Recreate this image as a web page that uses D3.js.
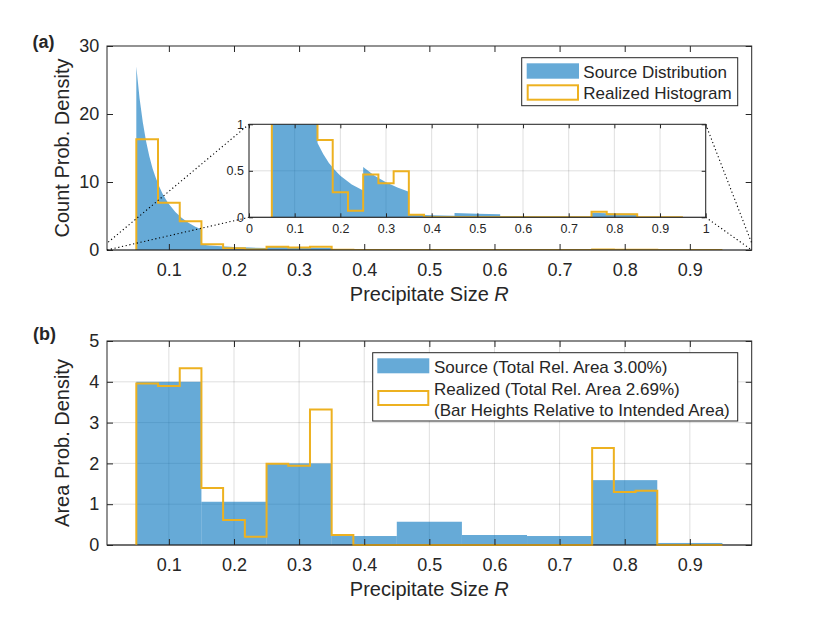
<!DOCTYPE html>
<html>
<head>
<meta charset="utf-8">
<script src="https://cdn.jsdelivr.net/npm/d3@7"></script>
<style>
  body { margin: 0; background: #fff; }
  text { font-family: "Liberation Sans", Arial, Helvetica, sans-serif; fill: #262626; }
</style>
</head>
<body>
<script>
// chart data
var srcEdges = [0.05, 0.15, 0.25, 0.35, 0.45, 0.55, 0.65, 0.75, 0.85, 0.95];
var srcArea = [4.0, 1.06, 2.0, 0.22, 0.57, 0.245, 0.22, 1.59, 0.05];

var srcCurveR = [0.05, 0.055, 0.06, 0.065, 0.07, 0.075, 0.08, 0.085, 0.09, 0.095, 0.10, 0.11, 0.12, 0.13, 0.14, 0.15,
  0.15, 0.1625, 0.175, 0.1875, 0.20, 0.225, 0.25,
  0.25, 0.275, 0.30, 0.325, 0.35,
  0.35, 0.40, 0.45,
  0.45, 0.50, 0.55,
  0.55, 0.60, 0.65,
  0.65, 0.70, 0.75,
  0.75, 0.80, 0.85,
  0.85, 0.90, 0.95];
var srcCurveY = [27.0, 22.3, 18.8, 16.0, 13.8, 12.0, 10.6, 9.36, 8.35, 7.49, 6.76, 5.59, 4.69, 4.00, 3.45, 3.00,
  0.80, 0.68, 0.585, 0.51, 0.448, 0.354, 0.287,
  0.54, 0.447, 0.376, 0.32, 0.276,
  0.030, 0.023, 0.018,
  0.047, 0.038, 0.032,
  0.014, 0.0115, 0.0098,
  0.0088, 0.0076, 0.0066,
  0.048, 0.042, 0.037,
  0.0012, 0.001, 0.0009];

var realEdges = [0.05, 0.0833, 0.1167, 0.15, 0.1833, 0.2167, 0.25, 0.2833, 0.3167, 0.35, 0.3833, 0.4167, 0.45, 0.4833,
  0.5167, 0.55, 0.5833, 0.6167, 0.65, 0.6833, 0.7167, 0.75, 0.7833, 0.8167, 0.85, 0.8833, 0.9167, 0.95];
var realCount = [16.3, 6.96, 4.22, 0.83, 0.27, 0.07, 0.46, 0.365, 0.495, 0.028, 0, 0, 0, 0, 0, 0, 0, 0, 0, 0, 0,
  0.06, 0.032, 0.033, 0, 0, 0];
var realArea = [3.96, 3.90, 4.33, 1.40, 0.61, 0.20, 1.99, 1.94, 3.32, 0.245, 0, 0, 0, 0, 0, 0, 0, 0, 0, 0, 0,
  2.38, 1.30, 1.33, 0, 0, 0];

var xTicks = [0.1, 0.2, 0.3, 0.4, 0.5, 0.6, 0.7, 0.8, 0.9];
var yTicksA = [0, 10, 20, 30];
var yTicksB = [0, 1, 2, 3, 4, 5];
var insetXTicks = [0, 0.1, 0.2, 0.3, 0.4, 0.5, 0.6, 0.7, 0.8, 0.9, 1];
var insetYTicks = [0, 0.5, 1];

var legendA = ["Source Distribution", "Realized Histogram"];
var legendB = ["Source (Total Rel. Area 3.00%)", "Realized (Total Rel. Area 2.69%)", "(Bar Heights Relative to Intended Area)"];

var blue = "#0072BD", orange = "#EDB120", ink = "#262626";

var svg = d3.select("body").append("svg")
  .attr("width", 830)
  .attr("height", 623);

var x = d3.scaleLinear().domain([0.005, 0.995]).range([107, 751.7]);
var yA = d3.scaleLinear().domain([0, 30]).range([250, 46]);
var yB = d3.scaleLinear().domain([0, 5]).range([545, 341]);
var xIn = d3.scaleLinear().domain([0, 1]).range([249, 705.7]);
var yIn = d3.scaleLinear().domain([0, 1]).range([217.3, 124.3]);

function stairs(edges, h) {
  var pts = [[edges[0], 0]];
  h.forEach(function(v, i) {
    pts.push([edges[i], v]);
    pts.push([edges[i + 1], v]);
  });
  pts.push([edges[edges.length - 1], 0]);
  return pts;
}
var curvePts = srcCurveR.map(function(r, i) { return [r, srcCurveY[i]]; });

function frame(g, xs, ys) {
  var x0 = xs.range()[0], x1 = xs.range()[1], y0 = ys.range()[0], y1 = ys.range()[1];
  g.append("rect")
    .attr("x", x0).attr("y", y1)
    .attr("width", x1 - x0).attr("height", y0 - y1)
    .attr("fill", "none").attr("stroke", ink).attr("stroke-width", 1);
}

function axes(g, xs, ys, xt, yt, opts) {
  var x0 = xs.range()[0], x1 = xs.range()[1], y0 = ys.range()[0], y1 = ys.range()[1];
  var tl = opts.tick, fs = opts.fs;
  var fmt = function(d) { return String(+d.toFixed(2)); };
  var b = g.append("g").attr("transform", "translate(0," + y0 + ")")
    .call(d3.axisBottom(xs).tickValues(xt).tickSizeInner(-tl).tickSizeOuter(0).tickPadding(opts.xpad).tickFormat(fmt));
  var t = g.append("g").attr("transform", "translate(0," + y1 + ")")
    .call(d3.axisTop(xs).tickValues(xt).tickSizeInner(-tl).tickSizeOuter(0).tickFormat(""));
  var l = g.append("g").attr("transform", "translate(" + x0 + ",0)")
    .call(d3.axisLeft(ys).tickValues(yt).tickSizeInner(-tl).tickSizeOuter(0).tickPadding(opts.ypad).tickFormat(fmt));
  var r = g.append("g").attr("transform", "translate(" + x1 + ",0)")
    .call(d3.axisRight(ys).tickValues(yt).tickSizeInner(-tl).tickSizeOuter(0).tickFormat(""));
  [b, t, l, r].forEach(function(a) {
    a.select(".domain").remove();
    a.selectAll("line").attr("stroke", ink).attr("stroke-width", 1);
    a.selectAll("text").attr("font-size", fs).attr("fill", ink)
      .style("font-family", "'Liberation Sans', Arial, sans-serif");
  });
}

function grid(g, xs, ys, xt, yt) {
  var gg = g.append("g").attr("stroke", ink).attr("stroke-opacity", 0.15).attr("stroke-width", 1);
  xt.forEach(function(d) {
    gg.append("line").attr("x1", xs(d)).attr("x2", xs(d)).attr("y1", ys.range()[0]).attr("y2", ys.range()[1]);
  });
  yt.forEach(function(d) {
    gg.append("line").attr("y1", ys(d)).attr("y2", ys(d)).attr("x1", xs.range()[0]).attr("x2", xs.range()[1]);
  });
}

function xlabel(y) {
  var t = svg.append("text").attr("x", 429.3).attr("y", y)
    .attr("text-anchor", "middle").attr("font-size", 20);
  t.append("tspan").text("Precipitate Size ");
  t.append("tspan").attr("font-style", "italic").text("R");
}
function ylabel(txt, cy) {
  svg.append("text").attr("transform", "translate(69," + cy + ") rotate(-90)")
    .attr("text-anchor", "middle").attr("font-size", 20).text(txt);
}

// ---------------- panel (a) ----------------
var gA = svg.append("g");
svg.append("clipPath").attr("id", "clipA").append("rect")
  .attr("x", 107).attr("y", 46).attr("width", 644.7).attr("height", 204);
var plotA = gA.append("g").attr("clip-path", "url(#clipA)");

var area = function(xs, ys) {
  return d3.area().x(function(d) { return xs(d[0]); }).y0(ys(0)).y1(function(d) { return ys(d[1]); });
};
var line = function(xs, ys) {
  return d3.line().x(function(d) { return xs(d[0]); }).y(function(d) { return ys(d[1]); });
};

plotA.append("path").attr("d", area(x, yA)(curvePts))
  .attr("fill", blue).attr("fill-opacity", 0.6);
frame(gA, x, yA);
plotA.append("path").attr("d", line(x, yA)(stairs(realEdges, realCount)))
  .attr("fill", "none").attr("stroke", orange).attr("stroke-width", 2);
gA.append("line").attr("x1", 107).attr("x2", 751.7).attr("y1", 250).attr("y2", 250)
  .attr("stroke", ink).attr("stroke-opacity", 0.5);
axes(gA, x, yA, xTicks, yTicksA, { tick: 6, fs: 18, xpad: 13.2, ypad: 7.7 });

// zoom indicator lines
var zl = [
  [xIn(0), yIn(1), x.range()[0], yA(1)],
  [xIn(0), yIn(0), x.range()[0], yA(0)],
  [xIn(1), yIn(1), x.range()[1], yA(1)],
  [xIn(1), yIn(0), x.range()[1], yA(0)]
];
gA.selectAll(".zl").data(zl).enter().append("line")
  .attr("x1", function(d) { return d[0]; }).attr("y1", function(d) { return d[1]; })
  .attr("x2", function(d) { return d[2]; }).attr("y2", function(d) { return d[3]; })
  .attr("stroke", "#000").attr("stroke-width", 1.1).attr("stroke-dasharray", "1.2,2.6");

// inset
var gI = svg.append("g");
gI.append("rect").attr("x", 249).attr("y", 124.3).attr("width", 456.7).attr("height", 93).attr("fill", "#fff");
grid(gI, xIn, yIn, insetXTicks, insetYTicks);
svg.append("clipPath").attr("id", "clipI").append("rect")
  .attr("x", 249).attr("y", 124.3).attr("width", 456.7).attr("height", 93);
var plotI = gI.append("g").attr("clip-path", "url(#clipI)");
plotI.append("path").attr("d", area(xIn, yIn)(curvePts))
  .attr("fill", blue).attr("fill-opacity", 0.6);
frame(gI, xIn, yIn);
plotI.append("path").attr("d", line(xIn, yIn)(stairs(realEdges, realCount)))
  .attr("fill", "none").attr("stroke", orange).attr("stroke-width", 2);
gI.append("line").attr("x1", 249).attr("x2", 705.7).attr("y1", 217.3).attr("y2", 217.3)
  .attr("stroke", ink).attr("stroke-opacity", 0.5);
axes(gI, xIn, yIn, insetXTicks, insetYTicks, { tick: 4, fs: 12.5, xpad: 7, ypad: 5 });

// legend (a)
var lA = svg.append("g");
lA.append("rect").attr("x", 521.7).attr("y", 57.7).attr("width", 216).attr("height", 48)
  .attr("fill", "#fff").attr("stroke", ink).attr("stroke-width", 1);
lA.append("rect").attr("x", 526.7).attr("y", 63.3).attr("width", 52.3).attr("height", 15.4)
  .attr("fill", blue).attr("fill-opacity", 0.6);
lA.append("rect").attr("x", 527.7).attr("y", 85.3).attr("width", 50.3).attr("height", 14.4)
  .attr("fill", "none").attr("stroke", orange).attr("stroke-width", 2);
lA.selectAll(".lt").data(legendA).enter().append("text")
  .attr("x", 583.3).attr("y", function(d, i) { return [78.3, 99.3][i]; })
  .attr("font-size", 17).text(function(d) { return d; });

ylabel("Count Prob. Density", 148);
xlabel(301);
svg.append("text").attr("x", 32.5).attr("y", 48).attr("font-size", 18).attr("font-weight", "bold").text("(a)");

// ---------------- panel (b) ----------------
var gB = svg.append("g");
grid(gB, x, yB, xTicks, yTicksB);
gB.selectAll(".bar").data(srcArea).enter().append("rect")
  .attr("x", function(d, i) { return x(srcEdges[i]); })
  .attr("width", function(d, i) { return x(srcEdges[i + 1]) - x(srcEdges[i]); })
  .attr("y", function(d) { return yB(d); })
  .attr("height", function(d) { return yB(0) - yB(d); })
  .attr("fill", blue).attr("fill-opacity", 0.6);
frame(gB, x, yB);
gB.append("path").attr("d", line(x, yB)(stairs(realEdges, realArea)))
  .attr("fill", "none").attr("stroke", orange).attr("stroke-width", 2);
gB.append("line").attr("x1", 107).attr("x2", 751.7).attr("y1", 545).attr("y2", 545)
  .attr("stroke", ink).attr("stroke-opacity", 0.5);
axes(gB, x, yB, xTicks, yTicksB, { tick: 6, fs: 18, xpad: 13.2, ypad: 7.7 });

// legend (b)
var lB = svg.append("g");
lB.append("rect").attr("x", 372.7).attr("y", 352.7).attr("width", 365).attr("height", 68.3)
  .attr("fill", "#fff").attr("stroke", ink).attr("stroke-width", 1);
lB.append("rect").attr("x", 377.3).attr("y", 358.3).attr("width", 52).attr("height", 15)
  .attr("fill", blue).attr("fill-opacity", 0.6);
lB.append("rect").attr("x", 378.3).attr("y", 391).attr("width", 50).attr("height", 14)
  .attr("fill", "none").attr("stroke", orange).attr("stroke-width", 2);
lB.selectAll(".lt").data(legendB).enter().append("text")
  .attr("x", 434).attr("y", function(d, i) { return [372.7, 395, 416][i]; })
  .attr("font-size", 17).text(function(d) { return d; });

ylabel("Area Prob. Density", 443);
xlabel(596);
svg.append("text").attr("x", 33).attr("y", 340).attr("font-size", 18).attr("font-weight", "bold").text("(b)");
</script>
</body>
</html>
